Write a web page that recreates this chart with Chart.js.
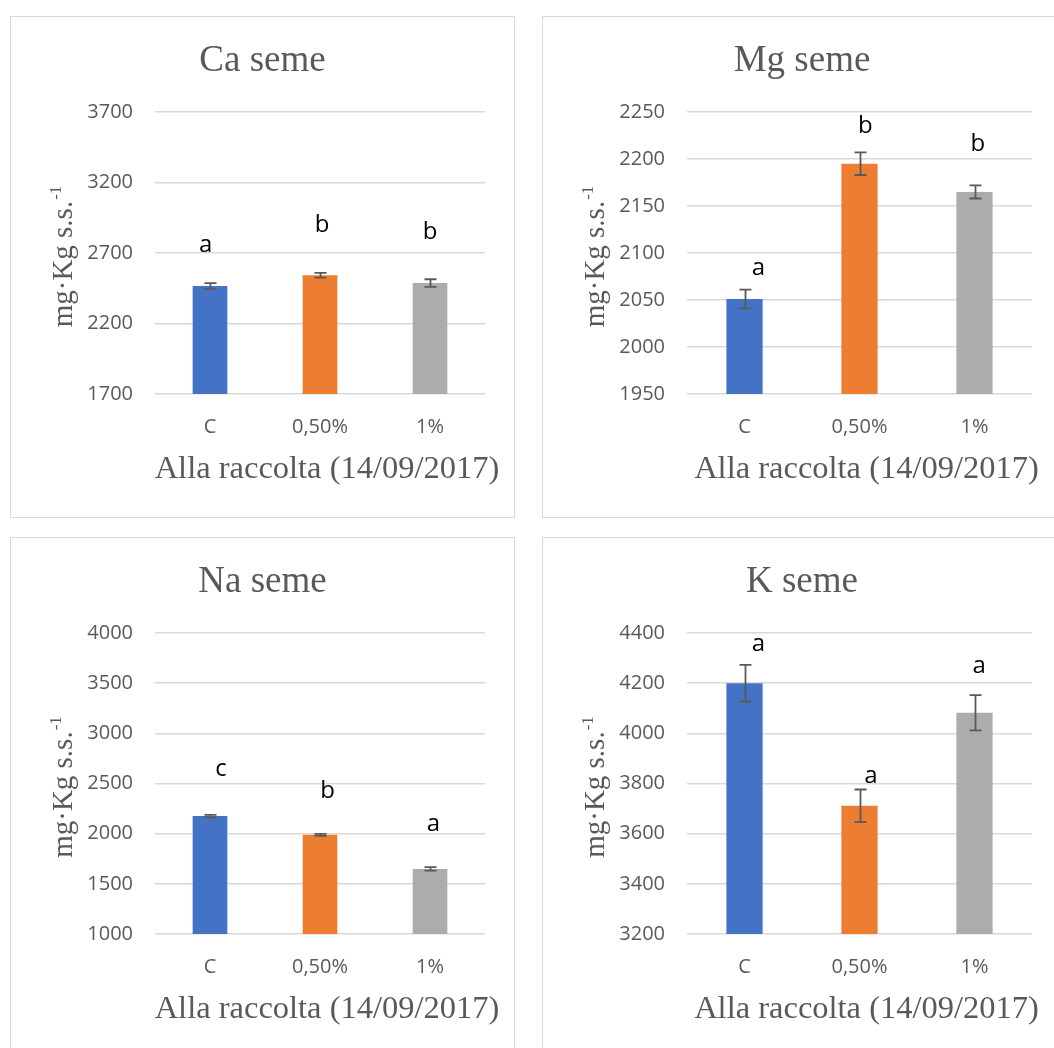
<!DOCTYPE html>
<html>
<head>
<meta charset="utf-8">
<script src="https://cdn.jsdelivr.net/npm/chart.js@4"></script>
<style>
    body { margin: 0; background: #fff; width: 1054px; height: 1048px; overflow: hidden; position: relative; }
    .panel { position: absolute; border: 1px solid #d9d9d9; background: #fff; }
    .panel canvas { display: block; }
</style>
</head>
<body>
<div class="panel" style="left:10px;top:16px;width:503px;height:500px"><canvas id="caChart" width="503" height="500"></canvas></div>
<div class="panel" style="left:542px;top:16px;width:518px;height:500px"><canvas id="mgChart" width="518" height="500"></canvas></div>
<div class="panel" style="left:10px;top:537px;width:503px;height:519px"><canvas id="naChart" width="503" height="519"></canvas></div>
<div class="panel" style="left:542px;top:537px;width:518px;height:519px"><canvas id="kChart" width="518" height="519"></canvas></div>
<script>
// shared
const categories = ["C", "0,50%", "1%"];
const barColors = ["#4472C4", "#ED7D31", "#AEABAB"];
const xAxisTitle = "Alla raccolta (14/09/2017)";
const yAxisTitle = "mg·Kg s.s.";
const yAxisSup = "-1";

// Ca seme
const caMeans = [2466, 2542, 2487];
const caErrors = [20, 17, 27];
const caLetters = ["a", "b", "b"];
const caLetterAt = [2709, 2847, 2799];
const caLetterShift = [-0.04, 0.02, 0];
const caAxis = [1700, 3700, 500];

// Mg seme
const mgMeans = [2051, 2195, 2165];
const mgErrors = [10, 12, 7];
const mgLetters = ["a", "b", "b"];
const mgLetterAt = [2077, 2228, 2208];
const mgLetterShift = [0.12, 0.05, 0.03];
const mgAxis = [1950, 2250, 50];

// Na seme
const naMeans = [2175, 1988, 1649];
const naErrors = [12, 10, 18];
const naLetters = ["c", "b", "a"];
const naLetterAt = [2574, 2357, 2025];
const naLetterShift = [0.10, 0.07, 0.03];
const naAxis = [1000, 4000, 500];

// K seme
const kMeans = [4200, 3711, 4082];
const kErrors = [73, 65, 70];
const kLetters = ["a", "a", "a"];
const kLetterAt = [4330, 3803, 4241];
const kLetterShift = [0.12, 0.10, 0.04];
const kAxis = [3200, 4400, 200];

const greyText = "#595959";

// titles, error bars, significance letters and the y title with its superscript
const extrasPlugin = {
    id: "extras",
    afterDatasetsDraw(chart, args, opts) {
        const ctx = chart.ctx;
        const xs = chart.scales.x;
        const ys = chart.scales.y;
        const area = chart.chartArea;
        const data = chart.data.datasets[0].data;
        ctx.save();

        // chart title
        ctx.fillStyle = greyText;
        ctx.textAlign = "center";
        ctx.textBaseline = "alphabetic";
        ctx.font = "37px 'Liberation Serif'";
        ctx.fillText(opts.title, chart.width / 2, 54);

        // x title
        ctx.font = "32.5px 'Liberation Serif'";
        ctx.fillText(xAxisTitle, (area.left + area.right) / 2 + 7, area.bottom + 84);

        ctx.strokeStyle = greyText;
        ctx.lineWidth = 1.8;
        opts.errors.forEach((e, i) => {
            const cx = Math.round(xs.getPixelForValue(i)) + 0.5;
            const top = ys.getPixelForValue(data[i] + e);
            const bot = ys.getPixelForValue(data[i] - e);
            ctx.beginPath();
            ctx.moveTo(cx, top); ctx.lineTo(cx, bot);
            ctx.moveTo(cx - 6, top); ctx.lineTo(cx + 6, top);
            ctx.moveTo(cx - 6, bot); ctx.lineTo(cx + 6, bot);
            ctx.stroke();
        });

        ctx.fillStyle = "#000";
        ctx.font = "24px 'Open Sans'";
        opts.letters.forEach((t, i) => {
            ctx.fillText(t, xs.getPixelForValue(i + opts.letterShift[i]), ys.getPixelForValue(opts.letterAt[i]));
        });

        // rotated y title
        const cy = (area.top + area.bottom) / 2 + 4;
        ctx.translate(61, cy);
        ctx.rotate(-Math.PI / 2);
        ctx.fillStyle = greyText;
        ctx.textAlign = "left";
        ctx.font = "29px 'Liberation Serif'";
        const wMain = ctx.measureText(yAxisTitle).width;
        ctx.font = "17px 'Liberation Serif'";
        const wSup = ctx.measureText(yAxisSup).width;
        const start = -(wMain + wSup) / 2;
        ctx.font = "29px 'Liberation Serif'";
        ctx.fillText(yAxisTitle, start, 0);
        ctx.font = "17px 'Liberation Serif'";
        ctx.fillText(yAxisSup, start + wMain + 1, -11);
        ctx.restore();
    }
};

function makeChart(id, title, means, errors, letters, letterAt, letterShift, axis) {
    const canvas = document.getElementById(id);
    return new Chart(canvas.getContext("2d"), {
        type: "bar",
        data: {
            labels: categories,
            datasets: [{
                data: means,
                backgroundColor: barColors,
                borderWidth: 0,
                barPercentage: 0.315,
                categoryPercentage: 1
            }]
        },
        options: {
            responsive: false,
            animation: false,
            layout: { padding: { left: 0, right: 29, top: 95, bottom: 0 } },
            plugins: {
                legend: { display: false },
                tooltip: { enabled: false },
                title: { display: false },
                extras: { title: title, errors: errors, letters: letters, letterAt: letterAt, letterShift: letterShift }
            },
            scales: {
                x: {
                    grid: { display: false },
                    border: { display: false },
                    ticks: {
                        color: greyText,
                        font: { family: "'Open Sans'", size: 20 },
                        padding: 13
                    },
                    // leaves room under the plot for the axis title
                    afterFit: (scale) => { scale.height = 123; }
                },
                y: {
                    min: axis[0],
                    max: axis[1],
                    ticks: {
                        stepSize: axis[2],
                        color: greyText,
                        font: { family: "'Open Sans'", size: 20 },
                        padding: 22,
                        callback: (v) => String(v)
                    },
                    grid: { color: "#d9d9d9", lineWidth: 1.5, drawTicks: false },
                    border: { display: false },
                    afterFit: (scale) => { scale.width = 144; }
                }
            }
        },
        plugins: [extrasPlugin]
    });
}

makeChart("caChart", "Ca seme", caMeans, caErrors, caLetters, caLetterAt, caLetterShift, caAxis);
makeChart("mgChart", "Mg seme", mgMeans, mgErrors, mgLetters, mgLetterAt, mgLetterShift, mgAxis);
makeChart("naChart", "Na seme", naMeans, naErrors, naLetters, naLetterAt, naLetterShift, naAxis);
makeChart("kChart", "K seme", kMeans, kErrors, kLetters, kLetterAt, kLetterShift, kAxis);
</script>
</body>
</html>
